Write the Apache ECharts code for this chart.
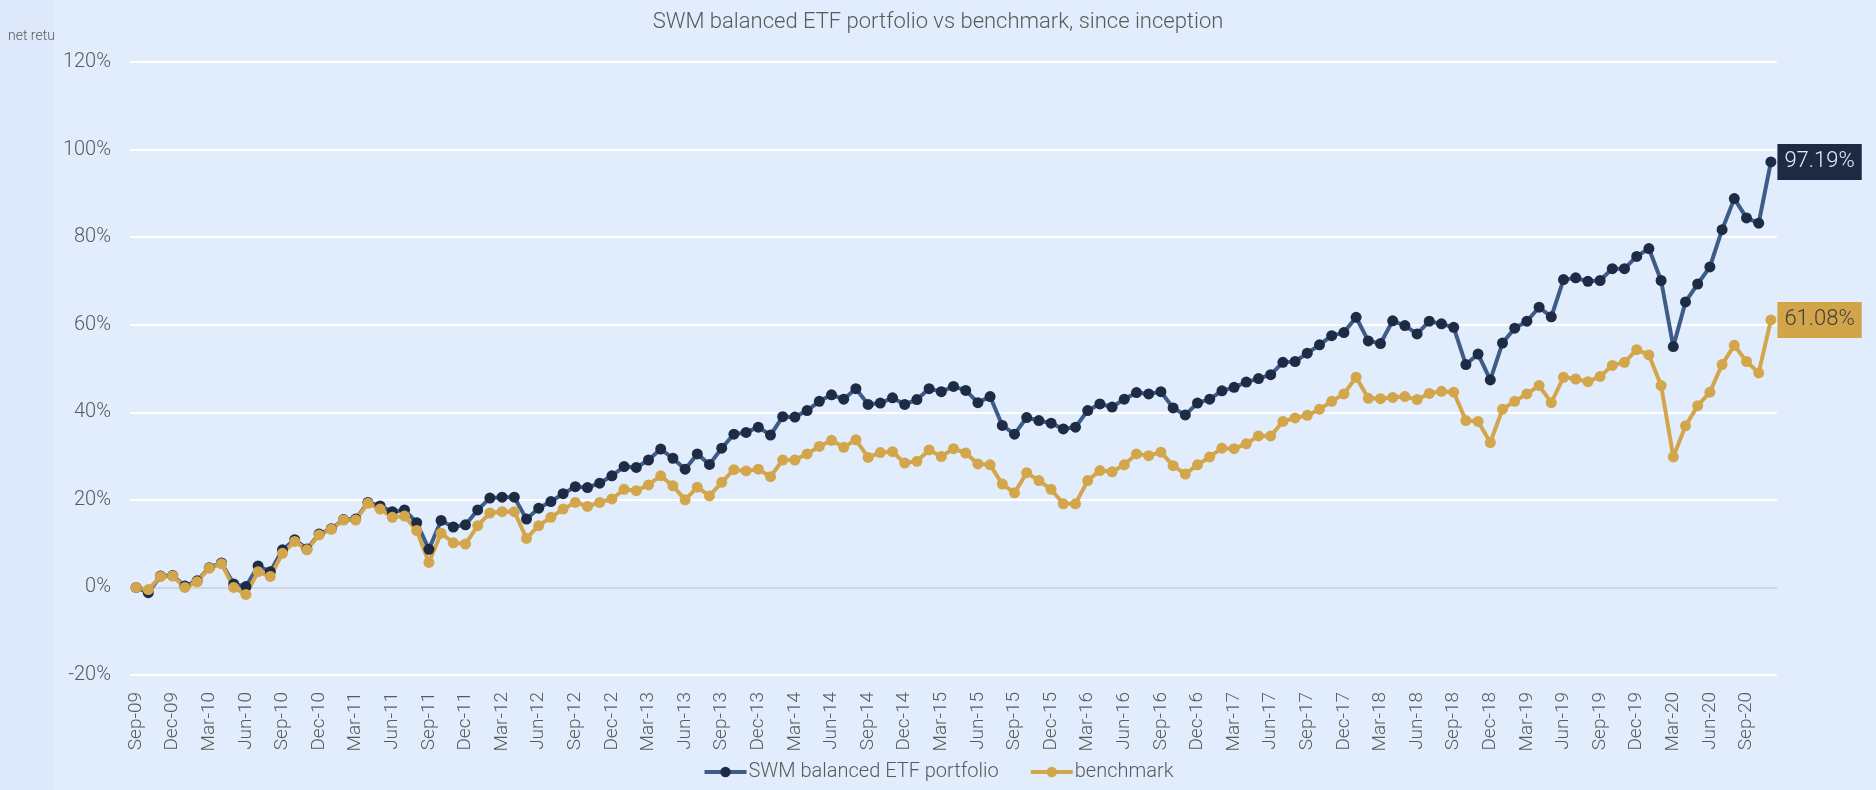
<html>
<head>
    <meta charset="utf-8">
    <title>ECharts</title>
    <script src="https://cdn.jsdelivr.net/npm/echarts@6.0.0/dist/echarts.min.js"></script>
    <style>body{margin:0;background:#e1edfd;}</style>
</head>
<body>
<div id="main" style="width: 1876px;height:790px;"></div>
<script type="text/javascript">
    // month labels, Sep-09 .. Nov-20
    var months = [
        'Sep-09','Oct-09','Nov-09','Dec-09',
        'Jan-10','Feb-10','Mar-10','Apr-10','May-10','Jun-10','Jul-10','Aug-10','Sep-10','Oct-10','Nov-10','Dec-10',
        'Jan-11','Feb-11','Mar-11','Apr-11','May-11','Jun-11','Jul-11','Aug-11','Sep-11','Oct-11','Nov-11','Dec-11',
        'Jan-12','Feb-12','Mar-12','Apr-12','May-12','Jun-12','Jul-12','Aug-12','Sep-12','Oct-12','Nov-12','Dec-12',
        'Jan-13','Feb-13','Mar-13','Apr-13','May-13','Jun-13','Jul-13','Aug-13','Sep-13','Oct-13','Nov-13','Dec-13',
        'Jan-14','Feb-14','Mar-14','Apr-14','May-14','Jun-14','Jul-14','Aug-14','Sep-14','Oct-14','Nov-14','Dec-14',
        'Jan-15','Feb-15','Mar-15','Apr-15','May-15','Jun-15','Jul-15','Aug-15','Sep-15','Oct-15','Nov-15','Dec-15',
        'Jan-16','Feb-16','Mar-16','Apr-16','May-16','Jun-16','Jul-16','Aug-16','Sep-16','Oct-16','Nov-16','Dec-16',
        'Jan-17','Feb-17','Mar-17','Apr-17','May-17','Jun-17','Jul-17','Aug-17','Sep-17','Oct-17','Nov-17','Dec-17',
        'Jan-18','Feb-18','Mar-18','Apr-18','May-18','Jun-18','Jul-18','Aug-18','Sep-18','Oct-18','Nov-18','Dec-18',
        'Jan-19','Feb-19','Mar-19','Apr-19','May-19','Jun-19','Jul-19','Aug-19','Sep-19','Oct-19','Nov-19','Dec-19',
        'Jan-20','Feb-20','Mar-20','Apr-20','May-20','Jun-20','Jul-20','Aug-20','Sep-20','Oct-20','Nov-20'
    ];

    // net return, %
    var portfolio = [
        0, -1.2, 2.6, 2.7,
        0.3, 1.5, 4.5, 5.6, 0.8, 0.2, 4.9, 3.6, 8.6, 10.9, 8.8, 12.2,
        13.4, 15.5, 15.6, 19.4, 18.6, 17.3, 17.7, 14.8, 8.7, 15.3, 13.8, 14.3,
        17.7, 20.4, 20.6, 20.6, 15.6, 18.1, 19.6, 21.4, 23.0, 22.8, 23.8, 25.5,
        27.6, 27.4, 29.1, 31.6, 29.5, 27.0, 30.5, 28.1, 31.8, 35.0, 35.4, 36.6,
        34.8, 39.0, 38.9, 40.4, 42.5, 44.0, 43.0, 45.4, 41.8, 42.1, 43.3, 41.8,
        42.9, 45.4, 44.7, 45.9, 45.0, 42.2, 43.6, 37.0, 35.0, 38.8, 38.1, 37.5,
        36.2, 36.6, 40.4, 41.9, 41.2, 43.0, 44.5, 44.2, 44.7, 41.0, 39.4, 42.1,
        43.0, 44.9, 45.7, 46.9, 47.7, 48.6, 51.4, 51.6, 53.5, 55.4, 57.5, 58.2,
        61.7, 56.3, 55.7, 60.9, 59.8, 57.9, 60.8, 60.2, 59.4, 50.9, 53.3, 47.4,
        55.8, 59.2, 60.8, 64.0, 61.8, 70.3, 70.7, 69.9, 70.1, 72.8, 72.8, 75.6,
        77.4, 70.1, 55.0, 65.2, 69.3, 73.2, 81.7, 88.8, 84.4, 83.2, 97.19
    ];

    var benchmark = [
        0, -0.5, 2.5, 2.6,
        0.0, 1.3, 4.4, 5.4, 0.0, -1.6, 3.6, 2.5, 7.8, 10.5, 8.6, 12.0,
        13.3, 15.4, 15.4, 19.2, 17.9, 16.0, 16.3, 13.0, 5.7, 12.4, 10.2, 9.9,
        14.1, 17.0, 17.3, 17.3, 11.2, 14.1, 16.0, 17.9, 19.4, 18.5, 19.4, 20.2,
        22.4, 22.1, 23.4, 25.5, 23.2, 20.0, 22.9, 20.9, 24.0, 26.9, 26.6, 27.0,
        25.3, 29.1, 29.1, 30.5, 32.2, 33.6, 32.0, 33.7, 29.7, 30.8, 31.0, 28.4,
        28.8, 31.4, 29.9, 31.7, 30.7, 28.2, 28.0, 23.6, 21.6, 26.2, 24.4, 22.4,
        19.1, 19.1, 24.4, 26.7, 26.4, 28.0, 30.5, 30.1, 30.9, 27.8, 25.9, 28.0,
        29.8, 31.8, 31.7, 32.8, 34.6, 34.6, 37.9, 38.7, 39.3, 40.7, 42.5, 44.2,
        48.0, 43.2, 43.1, 43.4, 43.6, 42.9, 44.3, 44.8, 44.6, 38.1, 37.9, 33.1,
        40.7, 42.5, 44.2, 46.1, 42.2, 48.0, 47.6, 47.0, 48.2, 50.7, 51.4, 54.3,
        53.1, 46.1, 29.8, 36.9, 41.5, 44.6, 50.9, 55.3, 51.6, 49.0, 61.08
    ];

    var font = 'Roboto';
    var navyLine = '#3d5c88', navyDot = '#1e2b45', gold = '#d4a64c';

    // put a boxed label on the last point only
    function withEndLabel(arr, bg, fg) {
        return arr.map(function (v, i) {
            if (i < arr.length - 1) return v;
            return {
                value: v,
                label: {
                    show: true, position: 'right', distance: 1,
                    formatter: v.toFixed(2) + '%',
                    backgroundColor: bg, color: fg, padding: [7, 7, 7, 7],
                    fontFamily: font, fontWeight: 300, fontSize: 22
                }
            };
        });
    }

    var myChart = echarts.init(document.getElementById('main'));

    var option = {
        backgroundColor: '#e1edfd',
        animation: false,
        textStyle: {fontFamily: font, fontWeight: 300},
        title: {
            text: 'SWM balanced ETF portfolio vs benchmark, since inception',
            left: 'center', top: 6,
            textStyle: {fontFamily: font, fontWeight: 300, fontSize: 22, color: '#595959'}
        },
        graphic: [
            {type: 'rect', left: 0, top: 0, z: -10, shape: {width: 53, height: 790}, style: {fill: '#dde9fa'}},
            {type: 'text', left: 8, top: 29, style: {
                text: 'net return', width: 48, overflow: 'truncate', ellipsis: '',
                fontFamily: font, fontWeight: 300, fontSize: 14, fill: '#595959'}}
        ],
        legend: {
            bottom: 3, left: 'center',
            itemWidth: 42, itemHeight: 13, itemGap: 30,
            lineStyle: {width: 4},
            textStyle: {fontFamily: font, fontWeight: 300, fontSize: 20, color: '#595959', padding: [0, 0, 0, -3]},
            data: ['SWM balanced ETF portfolio', 'benchmark']
        },
        grid: {left: 130, right: 99, top: 62, bottom: 115},
        xAxis: {
            type: 'category',
            data: months,
            boundaryGap: true,
            axisLine: {show: false},
            axisTick: {show: false},
            axisLabel: {
                interval: 2, rotate: 90, margin: 17,
                fontFamily: font, fontWeight: 300, fontSize: 19, color: '#595959'
            }
        },
        yAxis: {
            type: 'value',
            min: -20, max: 120, interval: 20,
            axisLine: {show: false},
            axisTick: {show: false},
            axisLabel: {formatter: '{value}%', margin: 19, fontFamily: font, fontWeight: 300, fontSize: 20, color: '#595959'},
            splitLine: {lineStyle: {width: 2,
                color: ['#ffffff', '#cdd8e7', '#ffffff', '#ffffff', '#ffffff', '#ffffff', '#ffffff', '#ffffff']}}
        },
        series: [{
            name: 'SWM balanced ETF portfolio',
            type: 'line',
            data: withEndLabel(portfolio, '#1e2a44', '#e6ebf2'),
            symbol: 'circle', symbolSize: 11, showAllSymbol: true,
            lineStyle: {color: navyLine, width: 4},
            itemStyle: {color: navyDot}
        }, {
            name: 'benchmark',
            type: 'line',
            data: withEndLabel(benchmark, '#d3a54a', '#3f3f3f'),
            symbol: 'circle', symbolSize: 11, showAllSymbol: true,
            lineStyle: {color: gold, width: 4},
            itemStyle: {color: gold}
        }]
    };

    myChart.setOption(option);
</script>
</body>
</html>
